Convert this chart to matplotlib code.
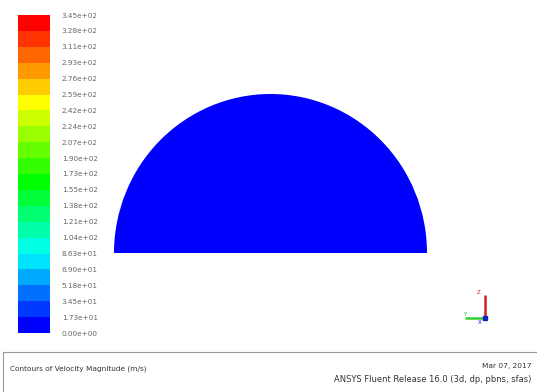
import numpy as np
import matplotlib
matplotlib.use("Agg")
import matplotlib.pyplot as plt
from matplotlib.colors import ListedColormap, BoundaryNorm, hsv_to_rgb
from matplotlib.colorbar import ColorbarBase
from matplotlib.patches import Wedge
from matplotlib.lines import Line2D

# Contour levels of velocity magnitude (m/s)
levels = [0.0, 17.25, 34.5, 51.75, 69.0, 86.25, 103.5, 120.75, 138.0, 155.25,
          172.5, 189.75, 207.0, 224.25, 241.5, 258.75, 276.0, 293.25, 310.5,
          327.75, 345.0]
level_labels = ["0.00e+00", "1.73e+01", "3.45e+01", "5.18e+01", "6.90e+01",
                "8.63e+01", "1.04e+02", "1.21e+02", "1.38e+02", "1.55e+02",
                "1.73e+02", "1.90e+02", "2.07e+02", "2.24e+02", "2.42e+02",
                "2.59e+02", "2.76e+02", "2.93e+02", "3.11e+02", "3.28e+02",
                "3.45e+02"]

# Semicircular domain (radius in m) and its velocity magnitude
domain_radius = 1.0
domain_velocity = 0.0

title_text = "Contours of Velocity Magnitude (m/s)"
date_text = "Mar 07, 2017"
release_text = "ANSYS Fluent Release 16.0 (3d, dp, pbns, sfas)"

# Banded rainbow colormap: blue -> green over the lower half, green -> red above
n_bands = len(levels) - 1
mid = n_bands // 2 - 1
hues = np.array([120 + (mid - i) * 120 / mid if i <= mid
                 else 120 * (n_bands - 1 - i) / (n_bands - 1 - mid)
                 for i in range(n_bands)]) / 360.0
band_colors = hsv_to_rgb(np.column_stack([hues, np.ones(n_bands), np.ones(n_bands)]))
cmap = ListedColormap(band_colors)
norm = BoundaryNorm(levels, cmap.N)

W, H = 537, 392
fig = plt.figure(figsize=(W / 100, H / 100), dpi=100)
fig.patch.set_facecolor("white")

def px_axes(x0, y0, x1, y1):
    """Axes from pixel box (top-left origin)."""
    return fig.add_axes([x0 / W, 1 - y1 / H, (x1 - x0) / W, (y1 - y0) / H])

# Domain
ax = px_axes(114, 94, 427, 253)
ax.set_xlim(-domain_radius, domain_radius)
ax.set_ylim(0, domain_radius)
ax.add_patch(Wedge((0, 0), domain_radius, 0, 180,
                   facecolor=cmap(norm(domain_velocity)), edgecolor="none"))
ax.axis("off")

# Colour scale
cax = px_axes(17.5, 15, 50, 333)
cb = ColorbarBase(cax, cmap=cmap, norm=norm, boundaries=levels,
                  ticks=levels, spacing="uniform", orientation="vertical")
cb.outline.set_visible(False)
cb.set_ticklabels(level_labels)
cax.tick_params(length=0, pad=8.5, labelsize=5.2, labelcolor="#666666")

# Footer frame
fig.add_artist(Line2D([3 / W, 1], [1 - 352 / H, 1 - 352 / H],
                      transform=fig.transFigure, color="#9a9a9a", lw=0.8))
fig.add_artist(Line2D([3 / W, 3 / W], [1 - 352 / H, 0],
                      transform=fig.transFigure, color="#9a9a9a", lw=0.8))
fig.text(10 / W, 1 - 369 / H, title_text, fontsize=5.3, color="#333333",
         ha="left", va="center")
fig.text(531 / W, 1 - 366 / H, date_text, fontsize=5.3, color="#333333",
         ha="right", va="center")
fig.text(531 / W, 1 - 379 / H, release_text, fontsize=6.0, color="#333333",
         ha="right", va="center")

# Coordinate triad
tax = px_axes(455, 285, 495, 330)
tax.set_xlim(0, 40)
tax.set_ylim(45, 0)
tax.axis("off")
tax.plot([30, 30], [33, 10], color="#d02020", lw=1.8, solid_capstyle="butt")
tax.plot([10, 30], [33, 33], color="#30d030", lw=1.8, solid_capstyle="butt")
tax.plot([30], [33], marker="s", ms=2.8, color="#1020c0")
tax.text(24, 7, "Z", color="#d02020", fontsize=4, ha="center", va="center")
tax.text(10, 29, "Y", color="#30a030", fontsize=4, ha="center", va="center")
tax.text(25, 37, "X", color="#1020c0", fontsize=4, ha="center", va="center")

fig.savefig("out.png", dpi=100, facecolor="white")
